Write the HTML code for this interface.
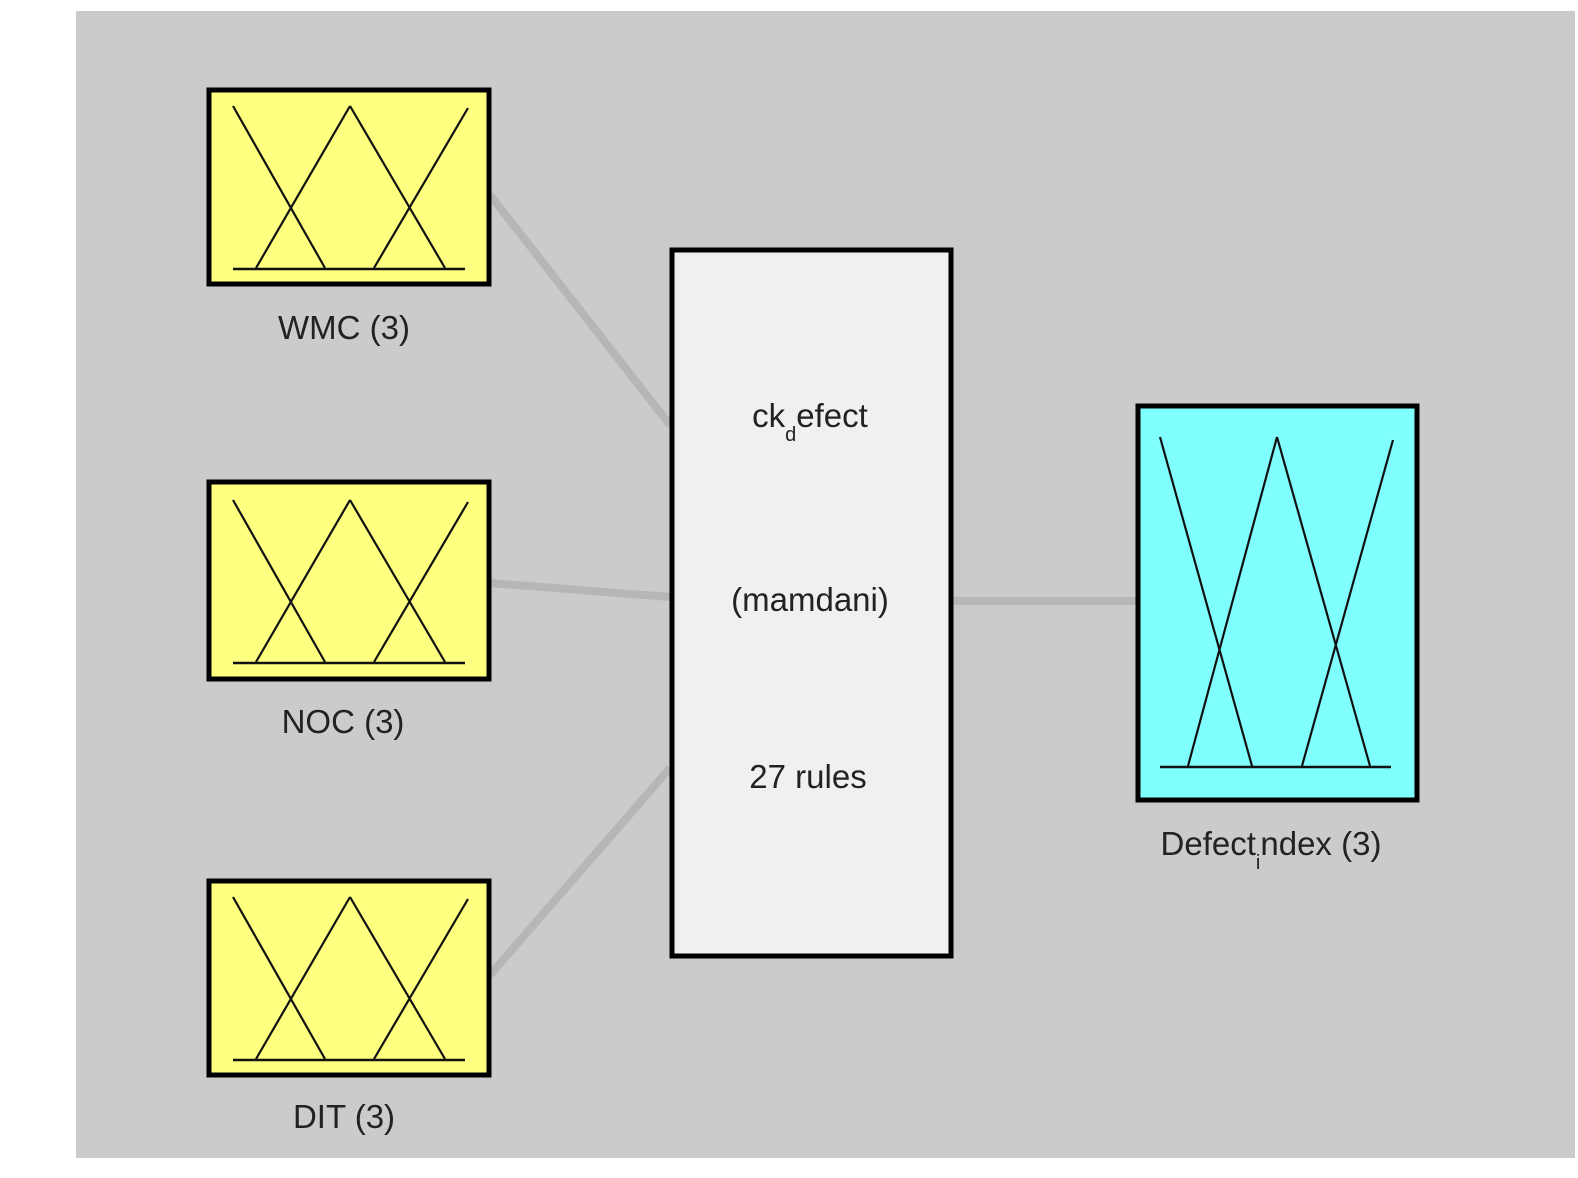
<!DOCTYPE html>
<html><head><meta charset="utf-8"><style>
html,body{margin:0;padding:0;background:#fff;}
svg{display:block}
text{font-family:"Liberation Sans",Arial,sans-serif;fill:#222;}
</style></head><body>
<svg width="1578" height="1178" viewBox="0 0 1578 1178" xmlns="http://www.w3.org/2000/svg">
<rect x="76" y="11" width="1499" height="1147" fill="#cbcbcb"/>
<g stroke="#b6b6b6" stroke-width="8" fill="none">
<line x1="490" y1="195" x2="670" y2="425"/>
<line x1="490" y1="583" x2="670" y2="597"/>
<line x1="490" y1="975" x2="670" y2="768"/>
<line x1="952" y1="601" x2="1136" y2="601"/>
</g>
<defs>
<g id="mf" stroke="#111" stroke-width="2.2" fill="none">
<line x1="233" y1="106" x2="325" y2="268"/>
<line x1="256" y1="268" x2="350" y2="106"/>
<line x1="350" y1="106" x2="445" y2="268"/>
<line x1="374" y1="268" x2="468" y2="108"/>
<line x1="233" y1="269" x2="465" y2="269" stroke-width="2.5"/>
</g>
</defs>
<g stroke="#000" stroke-width="5">
<rect x="209" y="90" width="280" height="194" fill="#ffff80"/>
<rect x="209" y="482" width="280" height="197" fill="#ffff80"/>
<rect x="209" y="881" width="280" height="194" fill="#ffff80"/>
<rect x="672" y="250" width="279" height="706" fill="#f0f0f0"/>
<rect x="1138" y="406" width="279" height="394" fill="#80ffff"/>
</g>
<use href="#mf"/>
<use href="#mf" transform="translate(0,394)"/>
<use href="#mf" transform="translate(0,791)"/>
<g stroke="#111" stroke-width="2.2" fill="none">
<line x1="1160" y1="437" x2="1252" y2="766"/>
<line x1="1188" y1="766" x2="1277" y2="437"/>
<line x1="1277" y1="437" x2="1370" y2="766"/>
<line x1="1302" y1="766" x2="1393" y2="440"/>
<line x1="1160" y1="767" x2="1391" y2="767" stroke-width="2.5"/>
</g>
<g font-size="33" text-anchor="middle">
<text x="344" y="339">WMC (3)</text>
<text x="343" y="733">NOC (3)</text>
<text x="344" y="1128">DIT (3)</text>
<text x="810" y="427">ck<tspan font-size="20" dy="14">d</tspan><tspan dy="-14">efect</tspan></text>
<text x="810" y="611">(mamdani)</text>
<text x="808" y="788">27 rules</text>
<text x="1271" y="855">Defect<tspan font-size="20" dy="14">i</tspan><tspan dy="-14">ndex (3)</tspan></text>
</g>
</svg>
</body></html>
